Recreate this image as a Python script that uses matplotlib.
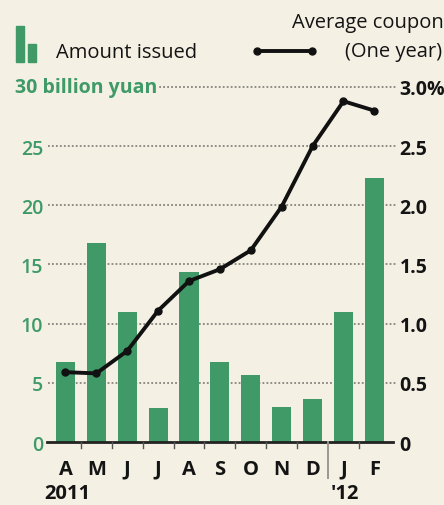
import matplotlib.pyplot as plt
from matplotlib.patches import Rectangle
from matplotlib.lines import Line2D

months = ["A", "M", "J", "J", "A", "S", "O", "N", "D", "J", "F"]
amount_issued = [6.8, 16.8, 11.0, 2.9, 14.4, 6.8, 5.7, 3.0, 3.6, 11.0, 22.3]
avg_coupon = [0.59, 0.58, 0.77, 1.11, 1.36, 1.46, 1.62, 1.99, 2.50, 2.88, 2.80]
left_ticks = [0, 5, 10, 15, 20, 25]
right_ticks = [0, 0.5, 1.0, 1.5, 2.0, 2.5, 3.0]
right_labels = ["0", "0.5", "1.0", "1.5", "2.0", "2.5", "3.0%"]

bg = "#f4f0e4"
green = "#3f9a68"
grid_col = "#85837c"
ink = "#141414"

plt.rcParams["font.family"] = ["Open Sans", "DejaVu Sans"]

fig = plt.figure(figsize=(4.44, 5.06), dpi=100, facecolor=bg)
ax = fig.add_axes([0.1126, 0.1245, 0.7654, 0.7016])
ax.set_facecolor(bg)
x = list(range(len(months)))

# dotted gridlines behind the bars
for v in left_ticks[1:] + [30]:
    ax.plot([-0.55, 10.7], [v, v], color=grid_col, lw=1.3, ls=(0, (1, 1.2)),
            clip_on=False, zorder=1)

ax.bar(x, amount_issued, width=0.62, color=green, zorder=2)
ax.set_xlim(-0.5, 10.5)
ax.set_ylim(0, 30)
for s in ax.spines.values():
    s.set_visible(False)
ax.axhline(0, color="#222222", lw=2, zorder=3, xmin=-0.01, xmax=1.01, clip_on=False)

ax.set_yticks(left_ticks)
ax.set_yticklabels([str(t) for t in left_ticks], color=green, fontsize=14,
                   fontweight="semibold")
ax.tick_params(axis="y", length=0, pad=5)

# month labels and small ticks between bars
ax.set_xticks(x)
ax.set_xticklabels(months, fontsize=14.5, fontweight="bold", color=ink)
ax.tick_params(axis="x", length=0, pad=12)
for b in [i + 0.5 for i in range(10)]:
    if b == 8.5:
        ax.plot([b, b], [0, -3.0], color="#9a9890", lw=1.4, clip_on=False, zorder=3)
    else:
        ax.plot([b, b], [0, -0.5], color="#555555", lw=1, clip_on=False, zorder=3)
ax.text(0.05, -4.3, "2011", ha="center", va="center", fontsize=14.5, fontweight="bold",
        color=ink)
ax.text(9.05, -4.3, "'12", ha="center", va="center", fontsize=14.5, fontweight="bold",
        color=ink)

ax2 = ax.twinx()
ax2.set_ylim(0, 3)
ax2.plot(x, avg_coupon, color="#111111", lw=2.8, marker="o", markersize=5, zorder=5)
for s in ax2.spines.values():
    s.set_visible(False)
ax2.set_yticks(right_ticks)
ax2.set_yticklabels(right_labels, fontsize=14, fontweight="bold", color=ink)
ax2.tick_params(axis="y", length=0, pad=7)

ax.text(0.034, 0.826, "30 billion yuan", transform=fig.transFigure, ha="left",
        va="center", fontsize=14, fontweight="bold", color=green, zorder=6,
        bbox=dict(facecolor=bg, edgecolor="none", pad=1))

# legend
fig.add_artist(Rectangle((0.036, 0.876), 0.018, 0.07, transform=fig.transFigure,
                         color=green))
fig.add_artist(Rectangle((0.062, 0.876), 0.018, 0.035, transform=fig.transFigure,
                         color=green))
fig.text(0.126, 0.896, "Amount issued", ha="left", va="center", fontsize=14.5,
         color=ink)
fig.add_artist(Line2D([0.578, 0.703], [0.897, 0.897], transform=fig.transFigure,
                      color="#111111", lw=2.8, marker="o", markersize=5))
fig.text(1.0, 0.955, "Average coupon", ha="right", va="center", fontsize=14.5,
         color=ink)
fig.text(0.995, 0.897, "(One year)", ha="right", va="center", fontsize=14.5,
         color=ink)

fig.savefig("out.png", dpi=100, facecolor=bg)
